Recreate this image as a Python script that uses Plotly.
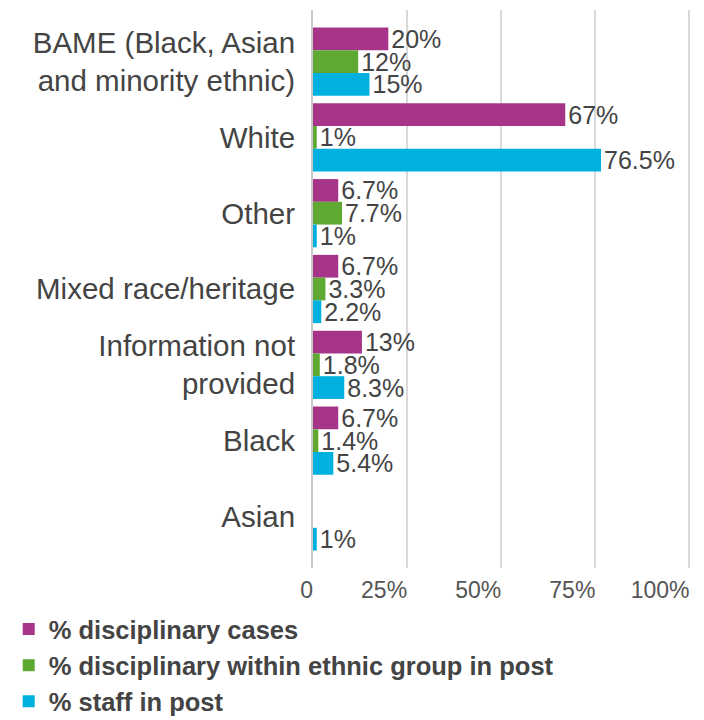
import plotly.graph_objects as go

# Ethnic groups, top to bottom
categories = [
    "BAME (Black, Asian<br>and minority ethnic)",
    "White",
    "Other",
    "Mixed race/heritage",
    "Information not<br>provided",
    "Black",
    "Asian",
]

# Percentages per series (None = no bar)
disciplinary_cases = [20, 67, 6.7, 6.7, 13, 6.7, None]
disciplinary_within_group = [12, 1, 7.7, 3.3, 1.8, 1.4, None]
staff_in_post = [15, 76.5, 1, 2.2, 8.3, 5.4, 1]

series_names = [
    "% disciplinary cases",
    "% disciplinary within ethnic group in post",
    "% staff in post",
]
series_colors = ["#A63589", "#5FA832", "#00B0DF"]

x_tick_values = [0, 25, 50, 75, 100]
x_tick_labels = ["0", "25%", "50%", "75%", "100%"]

FONT = "Liberation Sans, Arial, sans-serif"
TEXT = "#444444"

fig = go.Figure()
for i, (name, vals, col) in enumerate(
    zip(series_names, [disciplinary_cases, disciplinary_within_group, staff_in_post], series_colors)
):
    fig.add_trace(
        go.Bar(
            y=categories,
            x=vals,
            name=name,
            orientation="h",
            marker=dict(color=col, line=dict(width=0)),
            texttemplate="%{x}%",
            textposition="outside",
            constraintext="none",
            textfont=dict(family=FONT, size=25, color=TEXT),
            cliponaxis=False,
            legendgroup=f"g{i}",
        )
    )

fig.update_layout(
    width=704,
    height=720,
    margin=dict(l=313, r=13, t=10, b=152, autoexpand=False),
    paper_bgcolor="white",
    plot_bgcolor="white",
    barmode="group",
    bargap=0.1,
    bargroupgap=0,
    font=dict(family=FONT, color=TEXT),
    showlegend=True,
    legend=dict(
        orientation="v",
        x=-0.805,
        y=-0.068,
        xanchor="left",
        yanchor="top",
        traceorder="grouped",
        tracegroupgap=0,
        font=dict(family=FONT, size=25.5, color=TEXT, weight="bold"),
        bgcolor="rgba(0,0,0,0)",
    ),
)

fig.update_xaxes(
    range=[0, 100.4],
    tickvals=x_tick_values,
    ticktext=x_tick_labels,
    tickfont=dict(family=FONT, size=23, color="#555555"),
    ticklabelposition="outside left",
    showgrid=True,
    gridcolor="#D9D9D9",
    gridwidth=1.5,
    zeroline=False,
    showline=False,
    ticks="",
    ticklabelstandoff=6,
    automargin=False,
    fixedrange=True,
)

fig.update_yaxes(
    type="category",
    categoryorder="array",
    categoryarray=categories,
    range=[6.68, -0.68],
    tickfont=dict(family=FONT, size=29.5, color=TEXT),
    showgrid=False,
    zeroline=False,
    showline=True,
    linecolor="#C8C8C8",
    linewidth=2,
    ticks="",
    ticklabelstandoff=10,
    automargin=False,
    fixedrange=True,
)

fig.write_html("out.html")
